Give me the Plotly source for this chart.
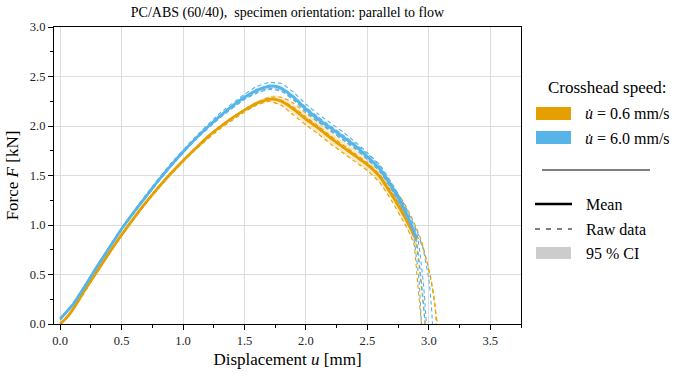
import plotly.graph_objects as go

# ---- Mean curves (common displacement grid, mm) -------------------------
U_MEAN = [0, 0.05, 0.1, 0.2, 0.3, 0.4, 0.5, 0.6, 0.7, 0.8, 0.9, 1.0, 1.1, 1.2,
          1.3, 1.4, 1.5, 1.6, 1.7, 1.75, 1.8, 1.9, 2.0, 2.1, 2.2, 2.3, 2.4,
          2.5, 2.6, 2.7, 2.75, 2.8, 2.85, 2.9]

F_MEAN_FAST = [0.05, 0.12, 0.19, 0.38, 0.58, 0.77, 0.96, 1.13, 1.29, 1.45,
               1.60, 1.74, 1.87, 1.99, 2.10, 2.20, 2.29, 2.36, 2.40, 2.40,
               2.38, 2.29, 2.17, 2.07, 1.98, 1.89, 1.80, 1.69, 1.57, 1.38,
               1.28, 1.16, 1.02, 0.86]
F_MEAN_SLOW = [0.00, 0.06, 0.14, 0.34, 0.53, 0.72, 0.90, 1.07, 1.23, 1.38,
               1.52, 1.65, 1.77, 1.89, 1.99, 2.08, 2.16, 2.23, 2.27, 2.27,
               2.25, 2.17, 2.07, 1.98, 1.88, 1.79, 1.70, 1.61, 1.49, 1.30,
               1.20, 1.09, 0.97, 0.85]

# 95 % confidence half-widths (kN)
CI_FAST = [0.01, 0.01, 0.01, 0.01, 0.01, 0.01, 0.01, 0.01, 0.01, 0.01, 0.01,
           0.01, 0.01, 0.015, 0.015, 0.02, 0.02, 0.025, 0.03, 0.03, 0.03, 0.03,
           0.03, 0.03, 0.03, 0.03, 0.03, 0.03, 0.035, 0.04, 0.045, 0.05, 0.06,
           0.07]
CI_SLOW = [0.01, 0.01, 0.01, 0.01, 0.01, 0.01, 0.01, 0.01, 0.01, 0.01, 0.01,
           0.01, 0.01, 0.01, 0.01, 0.01, 0.015, 0.02, 0.03, 0.04, 0.045, 0.05,
           0.055, 0.06, 0.06, 0.06, 0.06, 0.06, 0.06, 0.06, 0.065, 0.07, 0.08,
           0.09]

# ---- Raw specimen curves ------------------------------------------------
U_RAW = [0, 0.1, 0.3, 0.5, 0.7, 0.9, 1.1, 1.3, 1.5, 1.6, 1.7, 1.8, 1.9, 2.0,
         2.1, 2.2, 2.3, 2.4, 2.5, 2.6, 2.7, 2.8]

RAW_FAST_1 = [0.05, 0.20, 0.59, 0.97, 1.31, 1.62, 1.89, 2.13, 2.32, 2.40, 2.44,
              2.43, 2.34, 2.22, 2.12, 2.03, 1.94, 1.84, 1.73, 1.61, 1.42, 1.21]
RAW_FAST_2 = [0.05, 0.19, 0.57, 0.95, 1.28, 1.59, 1.86, 2.09, 2.27, 2.34, 2.38,
              2.36, 2.27, 2.15, 2.05, 1.96, 1.87, 1.78, 1.67, 1.55, 1.36, 1.14]
RAW_FAST_3 = [0.06, 0.19, 0.58, 0.96, 1.29, 1.60, 1.87, 2.10, 2.29, 2.37, 2.41,
              2.39, 2.30, 2.19, 2.09, 2.00, 1.91, 1.82, 1.72, 1.60, 1.41, 1.20]
RAW_FAST_4 = [0.04, 0.18, 0.57, 0.95, 1.29, 1.59, 1.86, 2.08, 2.27, 2.33, 2.37,
              2.35, 2.26, 2.14, 2.04, 1.95, 1.86, 1.77, 1.66, 1.54, 1.35, 1.12]

TAIL_U_FAST_1 = [2.85, 2.9, 2.93, 2.96, 2.98]
TAIL_F_FAST_1 = [1.07, 0.93, 0.70, 0.35, 0.0]
TAIL_U_FAST_2 = [2.85, 2.9, 2.92, 2.95, 2.97]
TAIL_F_FAST_2 = [1.00, 0.84, 0.65, 0.30, 0.0]
TAIL_U_FAST_3 = [2.85, 2.9, 2.95, 3.0, 3.02, 3.03]
TAIL_F_FAST_3 = [1.08, 0.95, 0.78, 0.45, 0.20, 0.0]
TAIL_U_FAST_4 = [2.85, 2.88, 2.92, 2.94]
TAIL_F_FAST_4 = [0.97, 0.85, 0.45, 0.0]

RAW_SLOW_1 = [0.00, 0.14, 0.53, 0.90, 1.23, 1.52, 1.78, 2.00, 2.17, 2.24, 2.29,
              2.29, 2.23, 2.13, 2.04, 1.95, 1.86, 1.77, 1.68, 1.57, 1.40, 1.22]
RAW_SLOW_2 = [0.00, 0.13, 0.52, 0.89, 1.22, 1.51, 1.76, 1.97, 2.14, 2.21, 2.25,
              2.21, 2.11, 2.01, 1.92, 1.82, 1.73, 1.64, 1.55, 1.43, 1.24, 1.02]
RAW_SLOW_3 = [0.01, 0.14, 0.53, 0.90, 1.23, 1.52, 1.77, 1.99, 2.16, 2.23, 2.27,
              2.26, 2.19, 2.09, 2.00, 1.90, 1.81, 1.72, 1.63, 1.51, 1.33, 1.13]
RAW_SLOW_4 = [0.00, 0.14, 0.53, 0.91, 1.24, 1.53, 1.77, 1.99, 2.16, 2.23, 2.27,
              2.25, 2.16, 2.06, 1.97, 1.87, 1.78, 1.69, 1.60, 1.48, 1.29, 1.08]

TAIL_U_SLOW_1 = [2.85, 2.9, 2.95, 3.0, 3.03, 3.07]
TAIL_F_SLOW_1 = [1.10, 0.97, 0.80, 0.55, 0.35, 0.0]
TAIL_U_SLOW_2 = [2.85, 2.88, 2.91, 2.94]
TAIL_F_SLOW_2 = [0.90, 0.80, 0.40, 0.0]
TAIL_U_SLOW_3 = [2.85, 2.9, 2.95, 2.98, 3.02, 3.05, 3.06]
TAIL_F_SLOW_3 = [1.02, 0.90, 0.78, 0.65, 0.44, 0.20, 0.0]
TAIL_U_SLOW_4 = [2.85, 2.89, 2.92, 2.95, 2.97]
TAIL_F_SLOW_4 = [0.96, 0.85, 0.60, 0.25, 0.0]

X_TICKS = [0.0, 0.5, 1.0, 1.5, 2.0, 2.5, 3.0, 3.5]
Y_TICKS = [0.0, 0.5, 1.0, 1.5, 2.0, 2.5, 3.0]

ORANGE = "#E69F00"
BLUE = "#56B4E9"
FONT = "Liberation Serif"

groups = [
    dict(color=ORANGE, fill="rgba(230,159,0,0.22)", mean=F_MEAN_SLOW, ci=CI_SLOW,
         raw=[(RAW_SLOW_1, TAIL_U_SLOW_1, TAIL_F_SLOW_1),
              (RAW_SLOW_2, TAIL_U_SLOW_2, TAIL_F_SLOW_2),
              (RAW_SLOW_3, TAIL_U_SLOW_3, TAIL_F_SLOW_3),
              (RAW_SLOW_4, TAIL_U_SLOW_4, TAIL_F_SLOW_4)]),
    dict(color=BLUE, fill="rgba(86,180,233,0.22)", mean=F_MEAN_FAST, ci=CI_FAST,
         raw=[(RAW_FAST_1, TAIL_U_FAST_1, TAIL_F_FAST_1),
              (RAW_FAST_2, TAIL_U_FAST_2, TAIL_F_FAST_2),
              (RAW_FAST_3, TAIL_U_FAST_3, TAIL_F_FAST_3),
              (RAW_FAST_4, TAIL_U_FAST_4, TAIL_F_FAST_4)]),
]

SMOOTH = dict(shape="spline", smoothing=0.6)

fig = go.Figure()

# confidence bands
for g in groups:
    upper = [m + c for m, c in zip(g["mean"], g["ci"])]
    lower = [m - c for m, c in zip(g["mean"], g["ci"])]
    fig.add_trace(go.Scatter(x=U_MEAN, y=upper, mode="lines",
                             line=dict(width=0, **SMOOTH), hoverinfo="skip"))
    fig.add_trace(go.Scatter(x=U_MEAN, y=lower, mode="lines", fill="tonexty",
                             fillcolor=g["fill"], line=dict(width=0, **SMOOTH),
                             hoverinfo="skip"))

# raw specimen curves (dashed)
for g in groups:
    for body, tu, tf in g["raw"]:
        fig.add_trace(go.Scatter(x=U_RAW + tu, y=body + tf, mode="lines",
                                 line=dict(color=g["color"], width=1.1,
                                           dash="4px,3px", shape="spline",
                                           smoothing=0.4)))

# mean curves
for g in groups:
    fig.add_trace(go.Scatter(x=U_MEAN, y=g["mean"], mode="lines",
                             line=dict(color=g["color"], width=2.8, **SMOOTH)))

# ---- custom legend on the right (pixel positions -> paper coords) ------
L, R, T, B = 54, 160, 27, 53
W, H = 681, 377
PW, PH = W - L - R, H - T - B


def px(x):
    return (x - L) / PW


def py(y):
    return (H - B - y) / PH


shapes = []
annotations = []


def text(x, y, s, anchor="left", size=16):
    annotations.append(dict(x=px(x), y=py(y), xref="paper", yref="paper", text=s,
                            showarrow=False, xanchor=anchor, yanchor="middle",
                            font=dict(family=FONT, size=size, color="black")))


def rect(x0, y0, x1, y1, color):
    shapes.append(dict(type="rect", xref="paper", yref="paper", x0=px(x0), x1=px(x1),
                       y0=py(y1), y1=py(y0), fillcolor=color, line=dict(width=0)))


def hline(x0, x1, y, width, dash="solid", color="black"):
    shapes.append(dict(type="line", xref="paper", yref="paper", x0=px(x0), x1=px(x1),
                       y0=py(y), y1=py(y), line=dict(color=color, width=width, dash=dash)))


text(607, 88, "Crosshead speed:", anchor="center", size=17)
rect(536, 107, 571, 120, ORANGE)
text(583, 113, "<i>u̇</i> = 0.6 mm/s")
rect(536, 131, 571, 144, BLUE)
text(583, 138, "<i>u̇</i> = 6.0 mm/s")
hline(542, 650, 170, 1)
hline(535, 572, 204, 2.5)
text(584, 204, "Mean")
hline(535, 572, 229, 1.2, dash="5px,6px")
text(584, 229, "Raw data")
rect(536, 247, 571, 259, "#cccccc")
text(584, 253, "95 % CI")

axis_common = dict(showline=True, linecolor="black", linewidth=1.2, mirror=True,
                   ticks="outside", ticklen=5, tickwidth=1, tickcolor="black",
                   showgrid=True, gridcolor="#dddddd", gridwidth=1,
                   zeroline=False, tickformat=".1f",
                   tickfont=dict(family=FONT, size=12.5, color="#222"))

fig.update_layout(
    width=W, height=H,
    margin=dict(l=L, r=R, t=T, b=B),
    plot_bgcolor="white", paper_bgcolor="white",
    title=dict(text="PC/ABS (60/40),\u2002specimen orientation: parallel to flow",
               x=px(287.5), xref="paper", xanchor="center", y=1 - 12 / H, yanchor="middle",
               font=dict(family=FONT, size=14, color="black")),
    xaxis=dict(range=[-0.05, 3.75], tickvals=X_TICKS,
               minor=dict(dtick=0.25, ticks="outside", ticklen=3, tickcolor="black",
                          showgrid=False),
               title=dict(text="Displacement <i>u</i> [mm]", standoff=6,
                          font=dict(family=FONT, size=17, color="black")),
               **axis_common),
    yaxis=dict(range=[0, 3.0], tickvals=Y_TICKS,
               minor=dict(dtick=0.25, ticks="outside", ticklen=3, tickcolor="black",
                          showgrid=False),
               title=dict(text="Force <i>F</i> [kN]", standoff=6,
                          font=dict(family=FONT, size=17, color="black")),
               **axis_common),
    shapes=shapes,
    annotations=annotations,
    showlegend=False,
)

fig.write_html("out.html")
